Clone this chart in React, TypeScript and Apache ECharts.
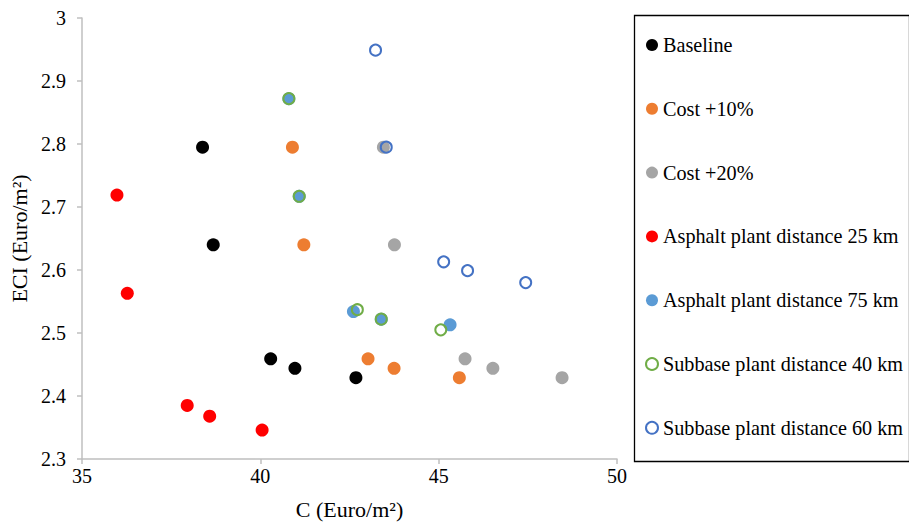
import React, { useEffect, useRef } from "react";
import * as echarts from "echarts";

const seriesNames = [
  "Baseline",
  "Cost +10%",
  "Cost +20%",
  "Asphalt plant distance 25 km",
  "Asphalt plant distance 75 km",
  "Subbase plant distance 40 km",
  "Subbase plant distance 60 km",
];

const baseline = [
  [38.38, 2.795],
  [38.68, 2.64],
  [40.29, 2.459],
  [40.97, 2.444],
  [42.68, 2.429],
];
const cost10 = [
  [40.9, 2.795],
  [41.22, 2.64],
  [43.02, 2.459],
  [43.75, 2.444],
  [45.58, 2.429],
];
const cost20 = [
  [43.45, 2.795],
  [43.76, 2.64],
  [45.74, 2.459],
  [46.52, 2.444],
  [48.46, 2.429],
];
const asphalt25 = [
  [35.98, 2.719],
  [36.27, 2.563],
  [37.95, 2.385],
  [38.58, 2.368],
  [40.05, 2.346],
];
const asphalt75 = [
  [40.8, 2.872],
  [41.09, 2.717],
  [42.61, 2.534],
  [43.39, 2.522],
  [45.32, 2.513],
];
const subbase40 = [
  [40.8, 2.872],
  [41.09, 2.717],
  [42.72, 2.537],
  [43.39, 2.522],
  [45.06, 2.505],
];
const subbase60 = [
  [43.23, 2.949],
  [43.53, 2.795],
  [45.14, 2.613],
  [45.81, 2.599],
  [47.44, 2.58],
];

const xTicks = { min: 35, max: 50, interval: 5 };
const yTicks = { min: 2.3, max: 3, interval: 0.1 };

const FONT = "Liberation Serif";

export default function App() {
  const ref = useRef<HTMLDivElement>(null);

  useEffect(() => {
    if (!ref.current) return;
    const chart = echarts.init(ref.current, null, { renderer: "svg" });

    const filled = (name: string, data: number[][], color: string) => ({
      name,
      type: "scatter",
      data,
      symbol: "circle",
      symbolSize: 13,
      itemStyle: { color, opacity: 1 },
      emphasis: { disabled: true },
    });
    const hollow = (name: string, data: number[][], color: string) => ({
      name,
      type: "scatter",
      data,
      symbol: "circle",
      symbolSize: 11,
      itemStyle: {
        color: "rgba(255,255,255,0)",
        borderColor: color,
        borderWidth: 2,
        opacity: 1,
      },
      emphasis: { disabled: true },
    });

    const axisColor = "#bfbfbf";

    chart.setOption({
      animation: false,
      backgroundColor: "#ffffff",
      textStyle: { fontFamily: FONT },
      grid: { left: 82, right: 292, top: 18, bottom: 67 },
      xAxis: {
        type: "value",
        min: xTicks.min,
        max: xTicks.max,
        interval: xTicks.interval,
        name: "C (Euro/m²)",
        nameLocation: "middle",
        nameGap: 39,
        nameTextStyle: { fontFamily: FONT, fontSize: 22, color: "#000" },
        axisLine: { show: true, lineStyle: { color: axisColor, width: 1.5 } },
        axisTick: { show: true, inside: false, length: 5, lineStyle: { color: axisColor, width: 1.5 } },
        axisLabel: { fontFamily: FONT, fontSize: 20, color: "#000", margin: 7 },
        splitLine: { show: false },
      },
      yAxis: {
        type: "value",
        min: yTicks.min,
        max: yTicks.max,
        interval: yTicks.interval,
        name: "ECI (Euro/m²)",
        nameLocation: "middle",
        nameGap: 50,
        nameTextStyle: { fontFamily: FONT, fontSize: 22, color: "#000" },
        axisLine: { show: true, lineStyle: { color: axisColor, width: 1.5 } },
        axisTick: { show: true, inside: false, length: 5, lineStyle: { color: axisColor, width: 1.5 } },
        axisLabel: {
          fontFamily: FONT,
          fontSize: 20,
          color: "#000",
          margin: 16,
          formatter: (v: number) => String(parseFloat(v.toFixed(1))),
        },
        splitLine: { show: false },
      },
      legend: {
        orient: "vertical",
        left: 645,
        top: 33,
        padding: 0,
        itemWidth: 12,
        itemHeight: 12,
        itemGap: 39.8,
        icon: "circle",
        selectedMode: false,
        data: seriesNames,
        textStyle: { fontFamily: FONT, fontSize: 20.2, color: "#000", lineHeight: 24 },
      },
      graphic: [
        {
          type: "rect",
          left: 632,
          top: 13,
          shape: { x: 0, y: 0, width: 275, height: 446 },
          style: { fill: "none", stroke: "#000", lineWidth: 1.3 },
          silent: true,
          z: -1,
        },
      ],
      series: [
        filled(seriesNames[0], baseline, "#000000"),
        filled(seriesNames[1], cost10, "#ED7D31"),
        filled(seriesNames[2], cost20, "#A5A5A5"),
        filled(seriesNames[3], asphalt25, "#FF0000"),
        filled(seriesNames[4], asphalt75, "#5B9BD5"),
        hollow(seriesNames[5], subbase40, "#70AD47"),
        hollow(seriesNames[6], subbase60, "#4472C4"),
      ],
    });

    return () => chart.dispose();
  }, []);

  return (
    <div
      ref={ref}
      style={{ position: "absolute", left: 0, top: 0, width: 909, height: 526 }}
    />
  );
}
